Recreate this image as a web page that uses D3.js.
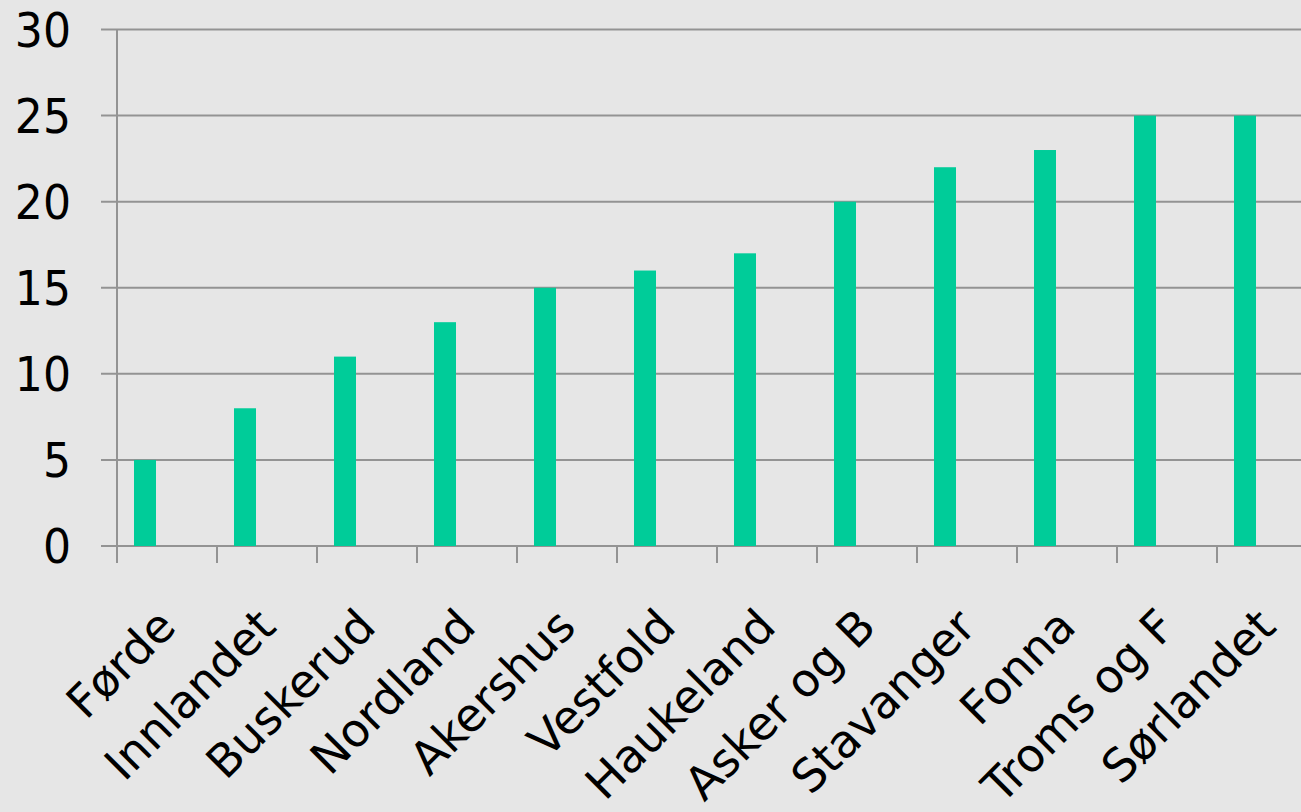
<!DOCTYPE html>
<html>
<head>
<meta charset="utf-8">
<script src="https://cdn.jsdelivr.net/npm/d3@7"></script>
<style>
  html, body { margin: 0; padding: 0; background: #e6e6e6; }
  svg { display: block; }
  text { font-family: "DejaVu Sans", Verdana, sans-serif; fill: #000; }
</style>
</head>
<body>
<svg id="chart" width="1301" height="812"></svg>
<script>
// Categories (hospitals / regions) and their values
const categories = ["Førde", "Innlandet", "Buskerud", "Nordland", "Akershus", "Vestfold",
  "Haukeland", "Asker og B", "Stavanger", "Fonna", "Troms og F", "Sørlandet"];
const values = [5, 8, 11, 13, 15, 16, 17, 20, 22, 23, 25, 25];
const yTicks = [0, 5, 10, 15, 20, 25, 30];

const W = 1301, H = 812;
const svg = d3.select("#chart");

const x = d3.scaleBand().domain(categories).range([117, 1317]).padding(0);
const y = d3.scaleLinear().domain([0, 30]).range([546, 29.5]);

const gridColor = "#939393";

// horizontal gridlines (with short outward tick on the left)
svg.append("g")
  .selectAll("line")
  .data(yTicks)
  .join("line")
  .attr("x1", 101).attr("x2", W)
  .attr("y1", d => y(d)).attr("y2", d => y(d))
  .attr("stroke", gridColor).attr("stroke-width", 2);

// y axis line
svg.append("line")
  .attr("x1", 117).attr("x2", 117)
  .attr("y1", y(30)).attr("y2", y(0) + 17)
  .attr("stroke", gridColor).attr("stroke-width", 2);

// category boundary ticks below the baseline
svg.append("g")
  .selectAll("line")
  .data(categories.slice(1))
  .join("line")
  .attr("x1", d => x(d)).attr("x2", d => x(d))
  .attr("y1", y(0)).attr("y2", y(0) + 17)
  .attr("stroke", gridColor).attr("stroke-width", 2);

// bars
const bw = x.bandwidth();
svg.append("g")
  .selectAll("rect")
  .data(values)
  .join("rect")
  .attr("x", (d, i) => x(categories[i]) + bw * 0.17)
  .attr("width", bw * 0.22)
  .attr("y", d => y(d))
  .attr("height", d => y(0) - y(d))
  .attr("fill", "#00cc99");

// y tick labels (slightly condensed digits)
svg.append("g")
  .selectAll("text")
  .data(yTicks)
  .join("text")
  .attr("text-anchor", "end")
  .attr("dy", "0.36em")
  .attr("transform", d => `translate(71,${y(d)}) scale(0.92,1)`)
  .style("font-size", "48px")
  .text(d => d);

// rotated category labels
svg.append("g")
  .selectAll("text")
  .data(categories)
  .join("text")
  .attr("text-anchor", "end")
  .attr("transform", d => `translate(${x(d) + bw / 2 + 11},629) rotate(-45)`)
  .style("font-size", "46px")
  .text(d => d);
</script>
</body>
</html>
